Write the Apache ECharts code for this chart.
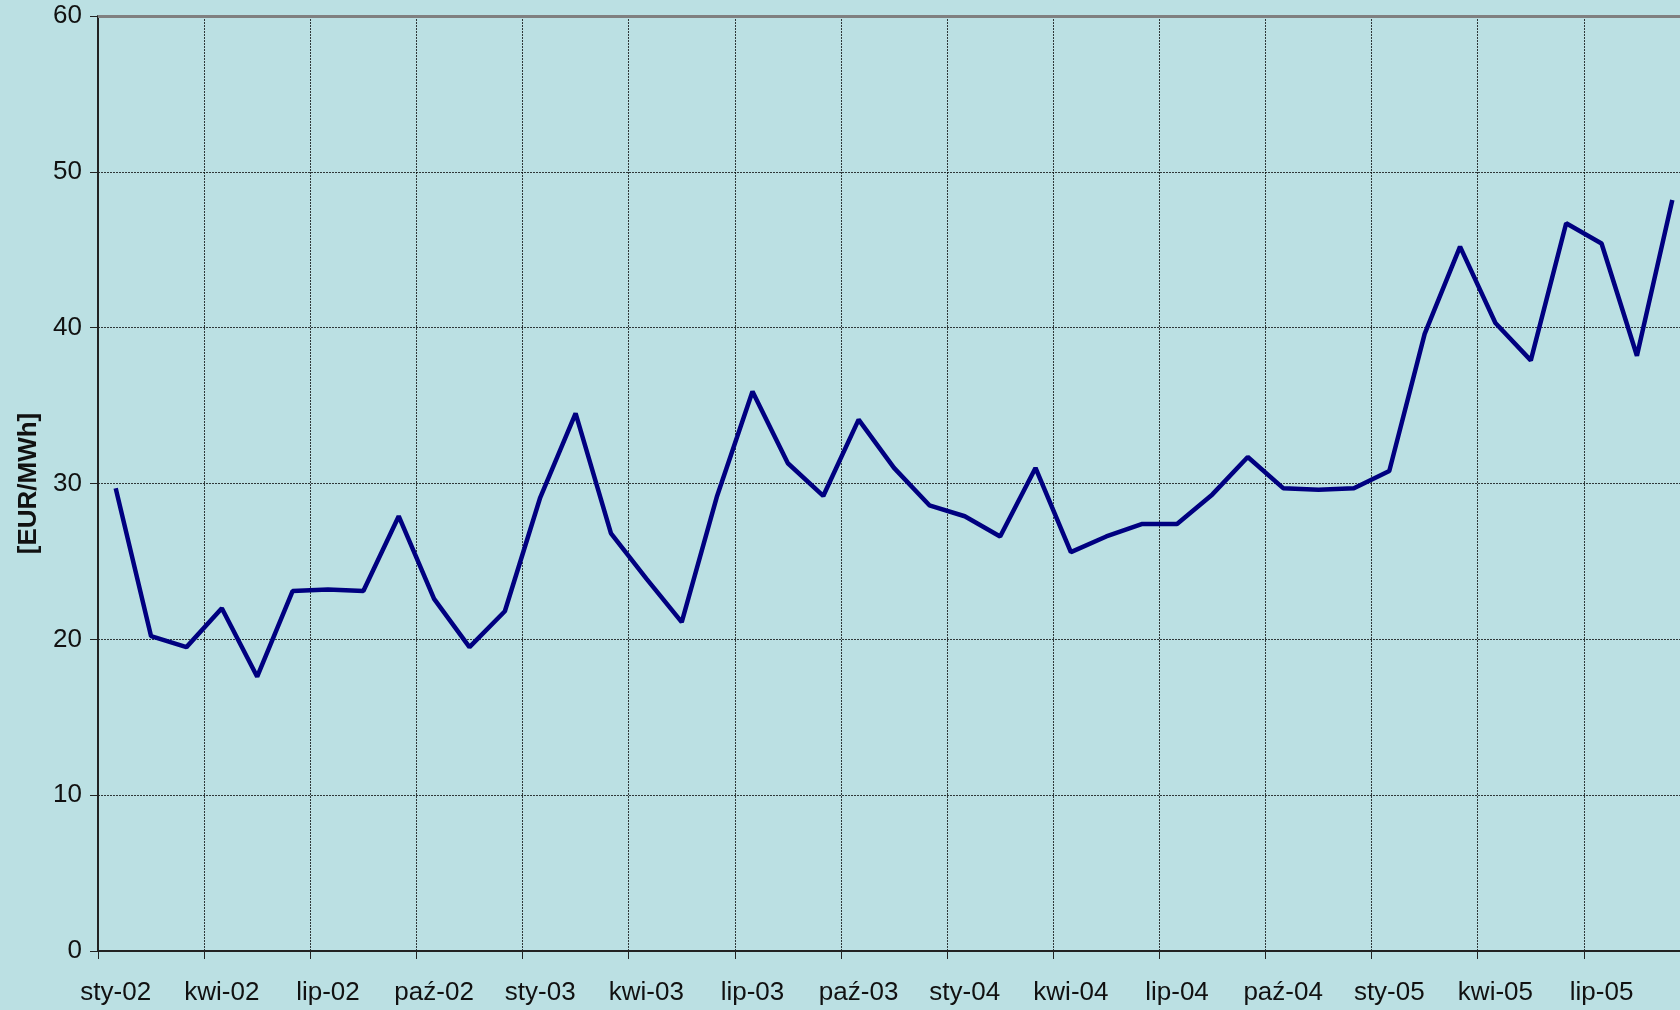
<!DOCTYPE html>
<html>
<head>
<meta charset="utf-8">
<script src="https://cdn.jsdelivr.net/npm/echarts@6/dist/echarts.min.js"></script>
<style>
  html, body { margin: 0; padding: 0; background: #bbe0e3; }
  #chart { width: 1680px; height: 1010px; }
</style>
</head>
<body>
<div id="chart"></div>
<script>
// months Jan 2002 .. Sep 2005
const monthNames = ['sty', 'lut', 'mar', 'kwi', 'maj', 'cze', 'lip', 'sie', 'wrz', 'paź', 'lis', 'gru'];
const years = ['02', '03', '04', '05'];
const categories = [];
years.forEach(function (y) {
  monthNames.forEach(function (m) { categories.push(m + '-' + y); });
});
categories.length = 45;

// price [EUR/MWh]
const prices = [
  29.7, 20.2, 19.5, 22.0, 17.6, 23.1, 23.2, 23.1, 27.9, 22.6, 19.5, 21.8,
  29.1, 34.5, 26.8, 23.9, 21.1, 29.2, 35.9, 31.3, 29.2, 34.1, 31.0, 28.6,
  27.9, 26.6, 31.0, 25.6, 26.6, 27.4, 27.4, 29.3, 31.7, 29.7, 29.6, 29.7,
  30.8, 39.6, 45.2, 40.3, 37.9, 46.7, 45.4, 38.2, 48.2
];

const yTicks = [0, 10, 20, 30, 40, 50, 60];

const chart = echarts.init(document.getElementById('chart'));
const gridLine = { color: 'rgba(0,0,0,0.75)', width: 1, type: [2, 1] };
const font = 'Liberation Sans, Arial, sans-serif';

chart.setOption({
  backgroundColor: '#bbe0e3',
  animation: false,
  grid: {
    left: 98,
    top: 16,
    right: -10, // plot runs a bit past the right edge, as in the original
    bottom: 59,
    outerBoundsMode: 'none',
    containLabel: false,
    show: false
  },
  xAxis: {
    type: 'category',
    data: categories,
    boundaryGap: true,
    axisLine: { lineStyle: { color: '#222', width: 2 } },
    axisTick: { show: true, interval: 2, length: 8, lineStyle: { color: '#222', width: 1 } },
    axisLabel: {
      interval: 2,
      margin: 29,
      fontSize: 26,
      color: '#111',
      fontFamily: font
    },
    splitLine: { show: true, interval: 2, lineStyle: gridLine }
  },
  yAxis: {
    type: 'value',
    min: yTicks[0],
    max: yTicks[yTicks.length - 1],
    interval: 10,
    name: '[EUR/MWh]',
    nameLocation: 'middle',
    nameGap: 55,
    nameTextStyle: { fontSize: 26, fontWeight: 'bold', color: '#111', fontFamily: font },
    axisLine: { show: true, lineStyle: { color: '#222', width: 2 } },
    axisTick: { show: true, length: 8, lineStyle: { color: '#222', width: 1 } },
    axisLabel: { margin: 16, fontSize: 26, color: '#111', fontFamily: font },
    splitLine: {
      show: true,
      lineStyle: gridLine
    }
  },
  series: [
    {
      type: 'line',
      data: prices,
      symbol: 'none',
      lineStyle: { color: '#000080', width: 4.5 },
      markLine: {
        silent: true,
        symbol: 'none',
        label: { show: false },
        lineStyle: { color: '#808080', width: 3, type: 'solid' },
        data: [{ yAxis: 60 }]
      }
    }
  ]
});
</script>
</body>
</html>
